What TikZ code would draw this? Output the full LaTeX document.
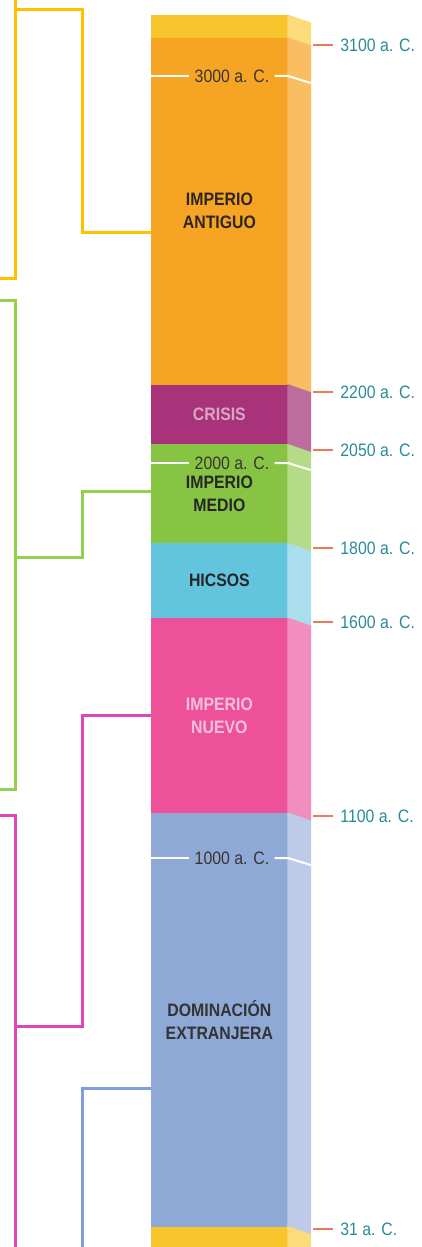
\documentclass[tikz,border=0pt]{standalone}
\usepackage{fontspec}
\setmainfont{Liberation Sans}[FakeStretch=0.88]
\usepackage{tikz}
\usetikzlibrary{positioning,calc}

% band colours (front / side)
\definecolor{capF}{HTML}{F9C52C}
\definecolor{capS}{HTML}{FCDB7A}
\definecolor{antF}{HTML}{F5A424}
\definecolor{antS}{HTML}{F9BD62}
\definecolor{criF}{HTML}{A8337A}
\definecolor{criS}{HTML}{BD6C9E}
\definecolor{medF}{HTML}{88C443}
\definecolor{medS}{HTML}{B4DB87}
\definecolor{hicF}{HTML}{62C4DD}
\definecolor{hicS}{HTML}{AADEEC}
\definecolor{nueF}{HTML}{EC519A}
\definecolor{nueS}{HTML}{F28EBE}
\definecolor{extF}{HTML}{8FA9D7}
\definecolor{extS}{HTML}{BDCBE8}
% text and lines
\definecolor{bandtext}{HTML}{2E261E}
\definecolor{datetext}{HTML}{3A3330}
\definecolor{ticktext}{HTML}{2B8C98}
\definecolor{tickred}{HTML}{E77D55}
\definecolor{brY}{HTML}{FFC000}
\definecolor{brG}{HTML}{92D050}
\definecolor{brP}{HTML}{DD47B9}
\definecolor{brB}{HTML}{809DE0}

\tikzset{
  band/.style={rectangle, minimum width=68pt, inner sep=0pt, anchor=north west,
    fill=#1, draw=#1, line width=0.4pt,
    align=center, font=\bfseries\fontsize{9}{11.5}\selectfont, text=bandtext},
  datetag/.style={inner sep=2.5pt, font=\fontsize{9}{10}\selectfont, text=datetext},
  ticklabel/.style={anchor=west, inner sep=0pt, font=\fontsize{9}{10}\selectfont, text=ticktext},
  tickline/.style={draw=tickred, line width=1pt},
  whiteline/.style={draw=white, line width=1pt},
  bracket/.style={line width=1.5pt, line join=miter}
}

% side face of a band
\newcommand\sideface[2]{\filldraw[#2, line width=0.4pt] (#1.north east) -- ++(23,8) -- ($(#1.south east)+(23,8)$) -- (#1.south east) -- cycle;}

\begin{document}
\begin{tikzpicture}[x=0.5pt, y=-0.5pt]
    \useasboundingbox[fill=white] (0,0) rectangle (422,1247);

    % Bands
    \node [band=capF, minimum height=11pt] (topcap) at (151,15) {};
    \node [band=antF, minimum height=173pt] (antiguo) at (topcap.south west) {IMPERIO\\ANTIGUO};
    \node [band=criF, minimum height=29.5pt, text=criS!60!white] (crisis) at (antiguo.south west) {CRISIS};
    \node [band=medF, minimum height=49pt, text=black!85] (medio) at (crisis.south west) {IMPERIO\\MEDIO};
    \node [band=hicF, minimum height=37pt, text=black!85] (hicsos) at (medio.south west) {HICSOS};
    \node [band=nueF, minimum height=97pt, text=nueS!55!white] (nuevo) at (hicsos.south west) {IMPERIO\\NUEVO};
    \node [band=extF, minimum height=206.5pt, text=black!80] (extranjera) at (nuevo.south west) {DOMINACIÓN\\EXTRANJERA};
    \node [band=capF, minimum height=11pt] (botcap) at (extranjera.south west) {};

    % Side faces
    \sideface{topcap}{capS}
    \sideface{antiguo}{antS}
    \sideface{crisis}{criS}
    \sideface{medio}{medS}
    \sideface{hicsos}{hicS}
    \sideface{nuevo}{nueS}
    \sideface{extranjera}{extS}
    \sideface{botcap}{capS}

    % Dates on the bar
    \node [datetag] (d3000) at (232,76) {3000 a. C.};
    \node [datetag] (d2000) at (232,463) {2000 a. C.};
    \node [datetag] (d1000) at (232,858) {1000 a. C.};
    \foreach \d in {d3000,d2000,d1000} {
      \draw [whiteline] (antiguo.west |- \d) -- (\d.west);
      \draw [whiteline] (\d.east) -- (antiguo.east |- \d) -- ++(23,7);
    }

    % Ticks
    \node [ticklabel] (t3100) at (340,45) {3100 a. C.};
    \node [ticklabel] (t2200) at (340,392) {2200 a. C.};
    \node [ticklabel] (t2050) at (340,450) {2050 a. C.};
    \node [ticklabel] (t1800) at (340,548) {1800 a. C.};
    \node [ticklabel] (t1600) at (340,622) {1600 a. C.};
    \node [ticklabel] (t1100) at (340,816) {1100 a. C.};
    \node [ticklabel] (t31) at (340,1229) {31 a. C.};
    \foreach \t in {t3100,t2200,t2050,t1800,t1600,t1100,t31}
      \draw [tickline] ([xshift=-3.5pt]\t.west) -- ++(-20,0);

    % Brackets
    \coordinate (yTop) at (15,0);
    \coordinate (yBot) at (15,278);
    \coordinate (yEnd) at (0,278);
    \coordinate (yFork) at (15,10);
    \coordinate (yKnee) at (82,232);
    \draw [bracket, brY] (yEnd) -- (yBot) -- (yTop);
    \draw [bracket, brY] (yFork) -| (yKnee) -- (antiguo.west |- yKnee);

    \coordinate (gTop) at (0,300);
    \coordinate (gBot) at (0,789);
    \coordinate (gFork) at (15,557);
    \coordinate (gKnee) at (82,491);
    \draw [bracket, brG] (gTop) -- (15,300) -- (15,789) -- (gBot);
    \draw [bracket, brG] (gFork) -| (gKnee) -- (medio.west |- gKnee);

    \coordinate (pTop) at (0,815);
    \coordinate (pBot) at (15,1252);
    \coordinate (pFork) at (15,1026);
    \coordinate (pKnee) at (82,715);
    \draw [bracket, brP] (pTop) -- (15,815) -- (pBot);
    \draw [bracket, brP] (pFork) -| (pKnee) -- (nuevo.west |- pKnee);

    \coordinate (bBot) at (82,1252);
    \coordinate (bKnee) at (82,1088);
    \draw [bracket, brB] (bBot) -- (bKnee) -- (extranjera.west |- bKnee);
\end{tikzpicture}
\end{document}
